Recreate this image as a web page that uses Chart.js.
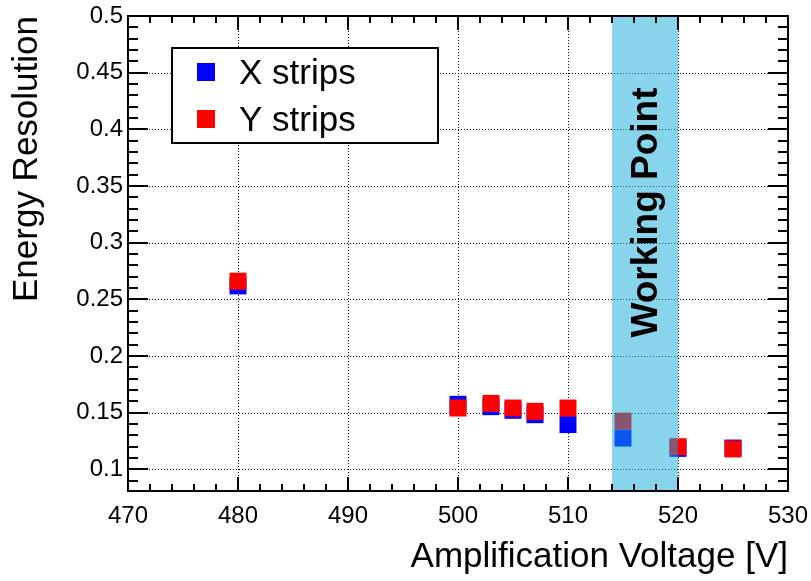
<!DOCTYPE html>
<html>
<head>
<meta charset="utf-8">
<script src="https://cdn.jsdelivr.net/npm/chart.js@4.4.0/dist/chart.umd.min.js"></script>
<style>
  html, body { margin: 0; padding: 0; background: #fff; }
  #c { display: block; }
</style>
</head>
<body>
<canvas id="c" width="811" height="581"></canvas>
<script>
// ---- data ----
const voltages = [480, 500, 503, 505, 507, 510, 515, 520, 525];
const xStrips  = [0.2619, 0.1575, 0.1554, 0.1522, 0.1483, 0.1396, 0.1277, 0.1186, 0.1189];
const yStrips  = [0.2661, 0.1542, 0.1583, 0.1542, 0.1513, 0.1542, 0.1426, 0.1201, 0.1181];
const xTickValues = [470, 480, 490, 500, 510, 520, 530];
const yTickValues = [0.1, 0.15, 0.2, 0.25, 0.3, 0.35, 0.4, 0.45, 0.5];
const workingPoint = [514, 520];
const workingLabel = 'Working Point';
const seriesNames = ['X strips', 'Y strips'];
const xTitle = 'Amplification Voltage [V]';
const yTitle = 'Energy Resolution';

const FONT = "'Liberation Sans', Arial, sans-serif";

const gridPlugin = {
  id: 'dotgrid',
  beforeDatasetsDraw(chart) {
    const { ctx, chartArea: a, scales: { x, y } } = chart;
    ctx.save();
    ctx.strokeStyle = '#000';
    ctx.lineWidth = 1;
    ctx.setLineDash([1, 2]);
    ctx.beginPath();
    x.ticks.forEach(t => {
      const px = Math.round(x.getPixelForValue(t.value)) + 0.5;
      ctx.moveTo(px, a.top); ctx.lineTo(px, a.bottom);
    });
    y.ticks.forEach(t => {
      const py = Math.round(y.getPixelForValue(t.value)) + 0.5;
      ctx.moveTo(a.left, py); ctx.lineTo(a.right, py);
    });
    ctx.stroke();
    ctx.restore();
  }
};

const bandPlugin = {
  id: 'band',
  afterDatasetsDraw(chart) {
    const { ctx, chartArea: a, scales: { x, y } } = chart;
    ctx.save();
    const x0 = x.getPixelForValue(workingPoint[0]);
    const x1 = x.getPixelForValue(workingPoint[1]);
    ctx.fillStyle = 'rgba(20,170,220,0.5)';
    ctx.fillRect(x0, a.top, x1 - x0, a.bottom - a.top);
    ctx.translate(x0 + (x1 - x0) * 0.68, (a.top + a.bottom) / 2 - 41);
    ctx.rotate(-Math.PI / 2);
    ctx.fillStyle = '#000';
    ctx.font = 'bold 37px ' + FONT;
    ctx.textAlign = 'center';
    ctx.textBaseline = 'alphabetic';
    ctx.fillText(workingLabel, 0, 0);
    ctx.restore();
  }
};

const framePlugin = {
  id: 'frame',
  afterDraw(chart) {
    const { ctx, chartArea: a, scales: { x, y } } = chart;
    ctx.save();
    ctx.strokeStyle = '#000';
    ctx.lineWidth = 2;
    ctx.lineCap = 'butt';
    ctx.beginPath();
    for (let v = x.min; v <= x.max + 1e-9; v += 2) {
      const px = Math.round(x.getPixelForValue(v));
      const major = Math.abs((v - x.min) % 10) < 1e-6;
      const len = major ? 14 : 7;
      ctx.moveTo(px, a.bottom); ctx.lineTo(px, a.bottom - len);
      ctx.moveTo(px, a.top); ctx.lineTo(px, a.top + len);
    }
    for (let i = Math.ceil(y.min * 100 - 1e-6); i <= Math.round(y.max * 100); i++) {
      const py = Math.round(y.getPixelForValue(i / 100));
      const major = i % 5 === 0;
      const len = major ? 20 : 10;
      ctx.moveTo(a.left, py); ctx.lineTo(a.left + len, py);
      ctx.moveTo(a.right, py); ctx.lineTo(a.right - len, py);
    }
    ctx.stroke();
    ctx.strokeRect(a.left, a.top, a.right - a.left, a.bottom - a.top);

    // legend
    const lx = 172, ly = 48, lw = 266, lh = 95;
    ctx.fillStyle = '#fff';
    ctx.fillRect(lx, ly, lw, lh);
    ctx.strokeRect(lx, ly, lw, lh);
    const rowsY = [72, 119];
    ctx.font = '35px ' + FONT;
    ctx.textBaseline = 'middle';
    ctx.textAlign = 'left';
    seriesNames.forEach((name, i) => {
      const ds = chart.data.datasets.find(d => d.label === name);
      ctx.fillStyle = ds.backgroundColor;
      ctx.fillRect(197, rowsY[i] - 9, 18, 18);
      ctx.fillStyle = '#000';
      ctx.fillText(name, 239, rowsY[i] + 2);
    });
    ctx.restore();
  }
};

const fmt = v => String(+Number(v).toFixed(2));

new Chart(document.getElementById('c'), {
  type: 'scatter',
  data: {
    datasets: [
      {
        label: seriesNames[0],
        data: voltages.map((v, i) => ({ x: v, y: xStrips[i] })),
        backgroundColor: '#0000ff',
        borderWidth: 0,
        pointStyle: 'rect',
        pointRadius: 12,
        pointHoverRadius: 12,
        order: 2
      },
      {
        label: seriesNames[1],
        data: voltages.map((v, i) => ({ x: v, y: yStrips[i] })),
        backgroundColor: '#ff0000',
        borderWidth: 0,
        pointStyle: 'rect',
        pointRadius: 12,
        pointHoverRadius: 12,
        order: 1
      }
    ]
  },
  options: {
    responsive: false,
    animation: false,
    events: [],
    layout: { padding: { top: 16, right: 23, left: 0, bottom: 0 } },
    plugins: { legend: { display: false }, tooltip: { enabled: false } },
    scales: {
      x: {
        type: 'linear',
        min: 470, max: 530,
        afterBuildTicks: s => { s.ticks = xTickValues.map(v => ({ value: v })); },
        afterFit: s => { s.height = 90; s.paddingLeft = 0; s.paddingRight = 0; },
        ticks: { font: { family: FONT, size: 24 }, color: '#000', padding: 11, callback: v => fmt(v), maxRotation: 0 },
        grid: { display: false, drawTicks: false },
        border: { display: false },
        title: { display: true, text: xTitle, align: 'end', color: '#000',
                 font: { family: FONT, size: 35, lineHeight: 1.0 }, padding: { top: 0, bottom: 6 } }
      },
      y: {
        type: 'linear',
        min: 0.081, max: 0.5,
        afterBuildTicks: s => { s.ticks = yTickValues.map(v => ({ value: v })); },
        afterFit: s => { s.width = 128; s.paddingTop = 0; s.paddingBottom = 0; },
        ticks: { font: { family: FONT, size: 24 }, color: '#000', padding: 5, callback: v => fmt(v) },
        grid: { display: false, drawTicks: false },
        border: { display: false },
        title: { display: true, text: yTitle, align: 'end', color: '#000',
                 font: { family: FONT, size: 35, lineHeight: 1.0 }, padding: { top: 10, bottom: 0 } }
      }
    }
  },
  plugins: [gridPlugin, bandPlugin, framePlugin]
});
</script>
</body>
</html>
